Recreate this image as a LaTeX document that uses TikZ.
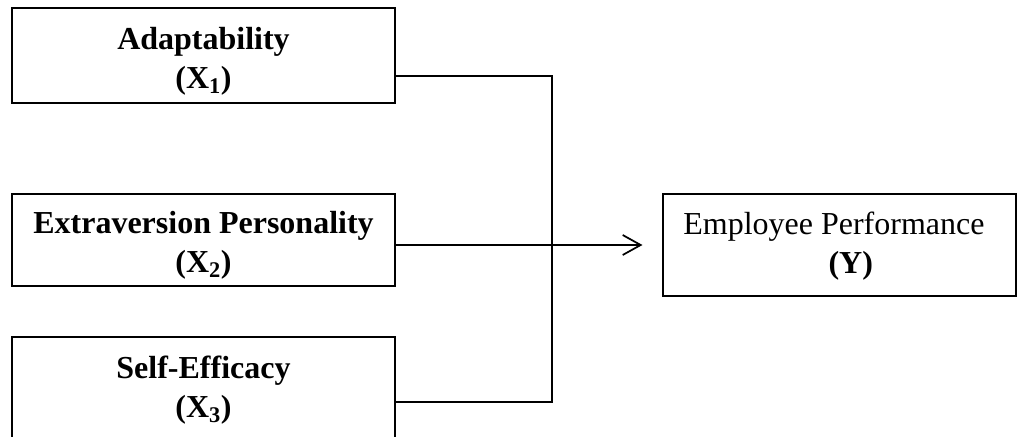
\documentclass[tikz,border=0pt]{standalone}
\usepackage{fontspec}
\setmainfont{Liberation Serif}
\usetikzlibrary{arrows.meta}
\tikzset{
  var/.style={draw, line width=0.8pt, inner sep=0pt},
  lbl/.style={align=center, inner sep=0pt, font=\fontsize{24}{29.25}\selectfont\bfseries},
  link/.style={line width=1.3pt}
}

\begin{document}
\begin{tikzpicture}[x=0.75pt,y=-0.75pt]
      \useasboundingbox (0,0) rectangle (1019,436);
      \node[var, minimum width=287.25pt, minimum height=71.25pt,
        label={[lbl, yshift=-4pt]center:Adaptability\\(X\textsubscript{1})}] (x1) at (203.5,55.5) {};
      \node[var, minimum width=287.25pt, minimum height=69pt,
        label={[lbl, yshift=-4pt]center:Extraversion Personality\\(X\textsubscript{2})}] (x2) at (203.5,240) {};
      \node[var, minimum width=287.25pt, minimum height=87pt,
        label={[lbl, yshift=3.5pt]center:Self-Efficacy\\(X\textsubscript{3})}] (x3) at (203.5,395) {};
      \node[var, minimum width=264.75pt, minimum height=76.5pt,
        label={[lbl, yshift=-1pt]center:\mdseries Employee Performance\kern0.35em\\\hspace{0.7em}(Y)}] (y) at (839.5,245) {};
      \coordinate (top) at (552,76);
      \coordinate (bot) at (552,402);
      \draw[link] (x1.east |- top) -- (top) -- (bot) -- (x3.east |- bot);
      \draw[link, -{Straight Barb[length=13.5pt,width=15pt]}, shorten >=15pt] (x2.east |- y.west) -- (y.west);
\end{tikzpicture}
\end{document}
